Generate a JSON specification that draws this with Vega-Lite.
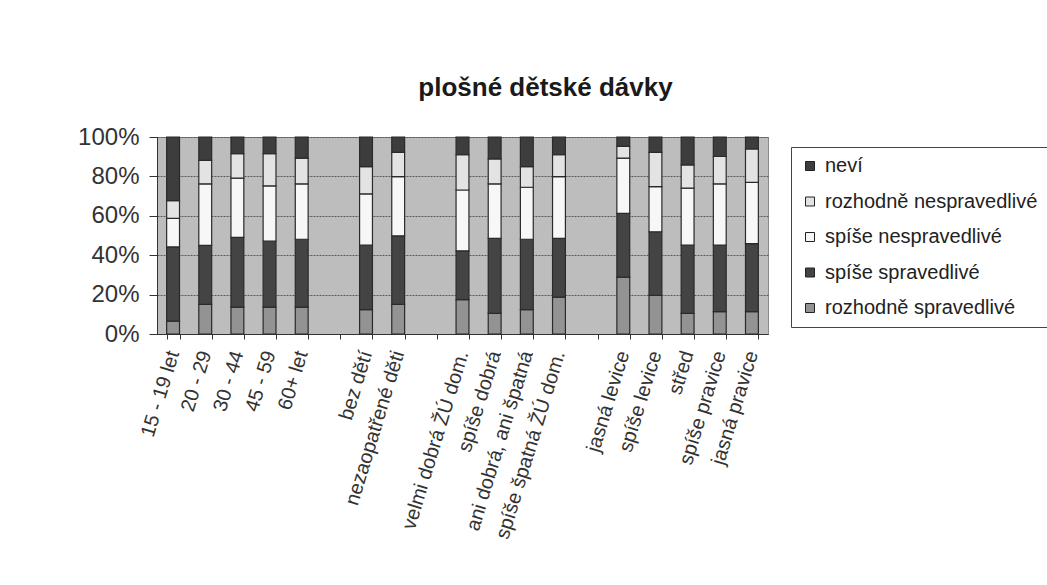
{
  "$schema": "https://vega.github.io/schema/vega-lite/v6.json",
  "autosize": {"type": "none"},
  "padding": {"left": 157, "top": 137, "right": 279, "bottom": 251},
  "width": 611,
  "height": 197,
  "background": "white",
  "title": {"text": "plošné dětské dávky", "fontSize": 26, "fontWeight": "bold", "font": "Liberation Sans", "color": "#1a1a1a", "anchor": "middle", "frame": "group", "dx": 83, "offset": 24},
  "config": {
    "view": {"fill": "#bdbdbd", "stroke": "#8a8a8a", "strokeWidth": 1},
    "font": "Liberation Sans"
  },
  "datasets": {
    "poradi": [
      {"k": "rozhodně spravedlivé", "i": 1},
      {"k": "spíše spravedlivé", "i": 2},
      {"k": "spíše nespravedlivé", "i": 3},
      {"k": "rozhodně nespravedlivé", "i": 4},
      {"k": "neví", "i": 5}
    ]
  },
  "data": {"values": [
    {"s":"15 - 19 let","k":"rozhodně spravedlivé","v":6.5},{"s":"15 - 19 let","k":"spíše spravedlivé","v":37.7},{"s":"15 - 19 let","k":"spíše nespravedlivé","v":14.5},{"s":"15 - 19 let","k":"rozhodně nespravedlivé","v":9},{"s":"15 - 19 let","k":"neví","v":32.3},
    {"s":"20 - 29","k":"rozhodně spravedlivé","v":15},{"s":"20 - 29","k":"spíše spravedlivé","v":30},{"s":"20 - 29","k":"spíše nespravedlivé","v":31.2},{"s":"20 - 29","k":"rozhodně nespravedlivé","v":11.9},{"s":"20 - 29","k":"neví","v":11.9},
    {"s":"30 - 44","k":"rozhodně spravedlivé","v":13.6},{"s":"30 - 44","k":"spíše spravedlivé","v":35.4},{"s":"30 - 44","k":"spíše nespravedlivé","v":30.1},{"s":"30 - 44","k":"rozhodně nespravedlivé","v":12.4},{"s":"30 - 44","k":"neví","v":8.5},
    {"s":"45 - 59","k":"rozhodně spravedlivé","v":13.6},{"s":"45 - 59","k":"spíše spravedlivé","v":33.5},{"s":"45 - 59","k":"spíše nespravedlivé","v":28.1},{"s":"45 - 59","k":"rozhodně nespravedlivé","v":16.3},{"s":"45 - 59","k":"neví","v":8.5},
    {"s":"60+ let","k":"rozhodně spravedlivé","v":13.6},{"s":"60+ let","k":"spíše spravedlivé","v":34.5},{"s":"60+ let","k":"spíše nespravedlivé","v":28.1},{"s":"60+ let","k":"rozhodně nespravedlivé","v":13.1},{"s":"60+ let","k":"neví","v":10.7},
    {"s":"bez dětí","k":"rozhodně spravedlivé","v":12.4},{"s":"bez dětí","k":"spíše spravedlivé","v":32.7},{"s":"bez dětí","k":"spíše nespravedlivé","v":26},{"s":"bez dětí","k":"rozhodně nespravedlivé","v":13.9},{"s":"bez dětí","k":"neví","v":15},
    {"s":"nezaopatřené děti","k":"rozhodně spravedlivé","v":15},{"s":"nezaopatřené děti","k":"spíše spravedlivé","v":34.8},{"s":"nezaopatřené děti","k":"spíše nespravedlivé","v":30.1},{"s":"nezaopatřené děti","k":"rozhodně nespravedlivé","v":12.3},{"s":"nezaopatřené děti","k":"neví","v":7.8},
    {"s":"velmi dobrá ŽÚ dom.","k":"rozhodně spravedlivé","v":17.5},{"s":"velmi dobrá ŽÚ dom.","k":"spíše spravedlivé","v":24.7},{"s":"velmi dobrá ŽÚ dom.","k":"spíše nespravedlivé","v":30.9},{"s":"velmi dobrá ŽÚ dom.","k":"rozhodně nespravedlivé","v":17.9},{"s":"velmi dobrá ŽÚ dom.","k":"neví","v":9},
    {"s":"spíše dobrá","k":"rozhodně spravedlivé","v":10.5},{"s":"spíše dobrá","k":"spíše spravedlivé","v":38},{"s":"spíše dobrá","k":"spíše nespravedlivé","v":27.7},{"s":"spíše dobrá","k":"rozhodně nespravedlivé","v":12.7},{"s":"spíše dobrá","k":"neví","v":11.1},
    {"s":"ani dobrá, ani špatná","k":"rozhodně spravedlivé","v":12.4},{"s":"ani dobrá, ani špatná","k":"spíše spravedlivé","v":35.7},{"s":"ani dobrá, ani špatná","k":"spíše nespravedlivé","v":26.4},{"s":"ani dobrá, ani špatná","k":"rozhodně nespravedlivé","v":10.5},{"s":"ani dobrá, ani špatná","k":"neví","v":15},
    {"s":"spíše špatná ŽÚ dom.","k":"rozhodně spravedlivé","v":18.7},{"s":"spíše špatná ŽÚ dom.","k":"spíše spravedlivé","v":29.8},{"s":"spíše špatná ŽÚ dom.","k":"spíše nespravedlivé","v":31.4},{"s":"spíše špatná ŽÚ dom.","k":"rozhodně nespravedlivé","v":11.1},{"s":"spíše špatná ŽÚ dom.","k":"neví","v":9},
    {"s":"jasná levice","k":"rozhodně spravedlivé","v":28.9},{"s":"jasná levice","k":"spíše spravedlivé","v":32.3},{"s":"jasná levice","k":"spíše nespravedlivé","v":28.1},{"s":"jasná levice","k":"rozhodně nespravedlivé","v":5.9},{"s":"jasná levice","k":"neví","v":4.8},
    {"s":"spíše levice","k":"rozhodně spravedlivé","v":19.6},{"s":"spíše levice","k":"spíše spravedlivé","v":32.3},{"s":"spíše levice","k":"spíše nespravedlivé","v":22.9},{"s":"spíše levice","k":"rozhodně nespravedlivé","v":17.4},{"s":"spíše levice","k":"neví","v":7.8},
    {"s":"střed","k":"rozhodně spravedlivé","v":10.5},{"s":"střed","k":"spíše spravedlivé","v":34.6},{"s":"střed","k":"spíše nespravedlivé","v":28.9},{"s":"střed","k":"rozhodně nespravedlivé","v":11.9},{"s":"střed","k":"neví","v":14.1},
    {"s":"spíše pravice","k":"rozhodně spravedlivé","v":11.4},{"s":"spíše pravice","k":"spíše spravedlivé","v":33.7},{"s":"spíše pravice","k":"spíše nespravedlivé","v":31.1},{"s":"spíše pravice","k":"rozhodně nespravedlivé","v":13.9},{"s":"spíše pravice","k":"neví","v":9.9},
    {"s":"jasná pravice","k":"rozhodně spravedlivé","v":11.4},{"s":"jasná pravice","k":"spíše spravedlivé","v":34.5},{"s":"jasná pravice","k":"spíše nespravedlivé","v":31.1},{"s":"jasná pravice","k":"rozhodně nespravedlivé","v":17},{"s":"jasná pravice","k":"neví","v":6}
  ]},
  "transform": [
    {"lookup": "k", "from": {"data": {"name": "poradi"}, "key": "k", "fields": ["i"]}}
  ],
  "mark": {"type": "bar", "stroke": "#2a2a2a", "strokeWidth": 1.2},
  "encoding": {
    "x": {
      "field": "s", "type": "nominal",
      "scale": {"domain": ["15 - 19 let","20 - 29","30 - 44","45 - 59","60+ let"," ","bez dětí","nezaopatřené děti","  ","velmi dobrá ŽÚ dom.","spíše dobrá","ani dobrá, ani špatná","spíše špatná ŽÚ dom.","   ","jasná levice","spíše levice","střed","spíše pravice","jasná pravice"], "paddingInner": 0.6, "paddingOuter": 0.3},
      "axis": {"title": null, "labelAngle": -73, "labelAlign": "right", "labelBaseline": "middle", "labelFontSize": 20, "labelColor": "#333", "labelPadding": 12, "labelLimit": 300, "tickBand": "extent", "tickSize": 5, "tickColor": "#333", "domainColor": "#333", "grid": false}
    },
    "y": {
      "field": "v", "type": "quantitative", "stack": "normalize",
      "scale": {"domain": [0, 1]},
      "axis": {"title": null, "format": ".0%", "values": [0, 0.2, 0.4, 0.6, 0.8, 1], "labelFontSize": 24, "labelColor": "#333", "labelPadding": 10, "tickSize": 8, "tickColor": "#333", "domainColor": "#333", "grid": true, "gridColor": "#5a5a5a", "gridWidth": 1, "gridDash": [2, 1]}
    },
    "color": {
      "field": "k", "type": "nominal",
      "scale": {"domain": ["neví","rozhodně nespravedlivé","spíše nespravedlivé","spíše spravedlivé","rozhodně spravedlivé"], "range": ["#3d3d3d","#e3e3e3","#f7f7f7","#444444","#939393"]},
      "legend": {"title": null, "orient": "none", "legendX": 634, "legendY": 10, "symbolType": "square", "symbolSize": 81, "symbolStrokeColor": "#222", "symbolStrokeWidth": 1, "labelFontSize": 20, "labelColor": "#222", "labelLimit": 300, "rowPadding": 15.5, "padding": 9, "strokeColor": "#444", "fillColor": "white", "labelOffset": 5}
    },
    "order": {"field": "i", "type": "quantitative", "sort": "ascending"}
  }
}
